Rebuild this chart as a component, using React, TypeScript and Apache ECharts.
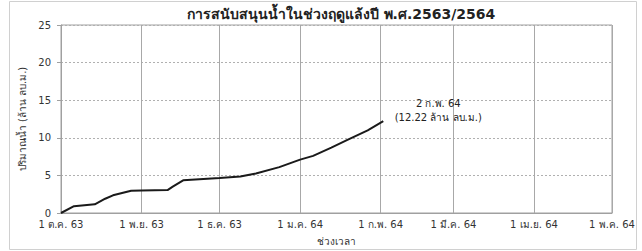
import React, { useEffect, useRef } from "react";
import * as echarts from "echarts";

const titleText = "การสนับสนุนน้ำในช่วงฤดูแล้งปี พ.ศ.2563/2564";
const yAxisName = "ปริมาณน้ำ (ล้าน ลบ.ม.)";
const xAxisName = "ช่วงเวลา";
const thaiMonths = ["ม.ค.", "ก.พ.", "มี.ค.", "เม.ย.", "พ.ค.", "มิ.ย.", "ก.ค.", "ส.ค.", "ก.ย.", "ต.ค.", "พ.ย.", "ธ.ค."];

const dates = [
  "2020-10-01", "2020-10-06", "2020-10-14", "2020-10-18", "2020-10-21", "2020-10-28",
  "2020-11-01", "2020-11-11", "2020-11-13", "2020-11-17", "2020-12-01", "2020-12-09",
  "2020-12-15", "2020-12-24", "2020-12-28", "2021-01-01", "2021-01-06", "2021-01-13",
  "2021-01-19", "2021-01-27", "2021-02-02",
];
const volumes = [
  0, 0.9, 1.15, 1.9, 2.35, 2.95,
  3.0, 3.05, 3.5, 4.35, 4.65, 4.85,
  5.25, 6.1, 6.6, 7.1, 7.6, 8.7,
  9.7, 11.0, 12.22,
];
const annotationLines = ["2 ก.พ. 64", "(12.22 ล้าน ลบ.ม.)"];

export default function App() {
  const ref = useRef<HTMLDivElement>(null);
  useEffect(() => {
    if (!ref.current) return;
    const chart = echarts.init(ref.current, undefined, { renderer: "svg" });
    const font = "Tahoma, 'DejaVu Sans', 'Noto Sans', sans-serif";
    const data = dates.map((d, i) => [d, volumes[i]]);
    const last = data[data.length - 1];
    chart.setOption({
      animation: false,
      backgroundColor: "#fff",
      textStyle: { fontFamily: font },
      title: {
        text: titleText,
        left: 336,
        textAlign: "center",
        top: 2,
        textStyle: { fontSize: 14, fontWeight: "bold", color: "#222", fontFamily: font },
      },
      graphic: [
        {
          type: "rect",
          shape: { x: 9.5, y: 1.5, width: 627, height: 248 },
          style: { fill: "none", stroke: "#d0d0d0", lineWidth: 1 },
          silent: true,
        },
      ],
      grid: {
        left: 61,
        right: 30,
        top: 25,
        bottom: 33,
        show: true,
        borderColor: "#a0a0a0",
        borderWidth: 1,
      },
      xAxis: {
        type: "time",
        min: new Date(2020, 9, 1).getTime(),
        max: new Date(2021, 4, 1).getTime(),
        splitNumber: 7,
        minInterval: 28 * 86400000,
        maxInterval: 31 * 86400000,
        name: xAxisName,
        nameLocation: "middle",
        nameGap: 23,
        nameTextStyle: { fontSize: 10, color: "#333" },
        axisLine: { lineStyle: { color: "#a0a0a0" } },
        axisTick: { show: false },
        axisLabel: {
          fontSize: 10,
          color: "#333",
          margin: 6,
          showMinLabel: true,
          showMaxLabel: true,
          formatter: (v: number) => {
            const d = new Date(v);
            const yy = (d.getFullYear() + 543) % 100;
            return d.getDate() + " " + thaiMonths[d.getMonth()] + " " + yy;
          },
        },
        splitLine: { show: true, lineStyle: { color: "#a8a8a8", type: "solid", width: 1 } },
      },
      yAxis: {
        type: "value",
        min: 0,
        max: 25,
        interval: 5,
        name: yAxisName,
        nameLocation: "middle",
        nameRotate: 90,
        nameGap: 32,
        nameTextStyle: { fontSize: 10, color: "#333" },
        axisLine: { show: true, lineStyle: { color: "#a0a0a0" } },
        axisTick: { show: true, length: 4, lineStyle: { color: "#a0a0a0" } },
        axisLabel: { fontSize: 10, color: "#333", margin: 10 },
        splitLine: { show: true, lineStyle: { color: "#b0b0b0", type: [2, 2], width: 1 } },
      },
      series: [
        {
          type: "line",
          data,
          showSymbol: false,
          smooth: false,
          lineStyle: { color: "#1a1a1a", width: 2 },
          markPoint: {
            symbol: "circle",
            symbolSize: 0,
            data: [{ coord: last, value: last[1] }],
            label: {
              show: true,
              position: "top",
              distance: 0,
              offset: [55, 3],
              align: "center",
              fontSize: 10,
              lineHeight: 14,
              color: "#222",
              formatter: annotationLines.join("\n"),
            },
          },
        },
      ],
    });
    return () => chart.dispose();
  }, []);
  return (
    <div
      ref={ref}
      style={{ position: "fixed", left: 0, top: 0, width: 642, height: 251, background: "#fff" }}
    />
  );
}
